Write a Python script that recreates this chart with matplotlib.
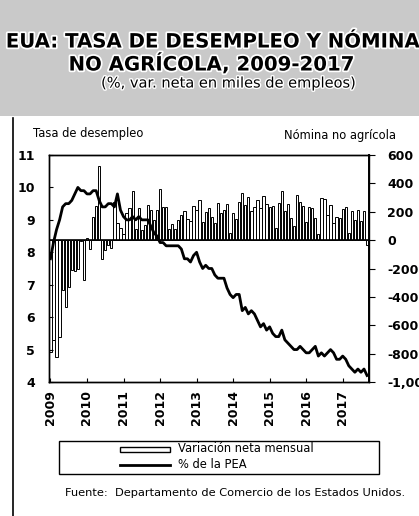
import numpy as np
import matplotlib
matplotlib.use("Agg")
import matplotlib.pyplot as plt
from matplotlib.patches import Rectangle
from matplotlib.lines import Line2D
import matplotlib.patheffects as pe
from matplotlib.ticker import FuncFormatter

plt.rcParams['axes.unicode_minus'] = False
plt.rcParams['font.family'] = ['DejaVu Sans']

# ---------------- data ----------------
start_year = 2009
# Nonfarm payroll monthly change (thousands), Jan 2009 - Sep 2017
nomina = [
    -791, -703, -823, -686, -351, -470, -329, -212, -219, -200, -7, -279,   # 2009
    14, -64, 163, 243, 522, -133, -70, -34, -54, 270, 121, 88,              # 2010
    42, 188, 225, 346, 77, 225, 69, 110, 248, 209, 141, 209,                # 2011
    358, 237, 233, 78, 115, 76, 143, 177, 203, 146, 132, 244,               # 2012
    211, 286, 130, 197, 226, 162, 122, 261, 190, 212, 258, 47,              # 2013
    190, 151, 272, 329, 246, 304, 202, 230, 280, 227, 312, 255,             # 2014
    234, 238, 86, 262, 344, 206, 254, 157, 100, 321, 272, 239,              # 2015
    126, 237, 225, 153, 43, 297, 291, 176, 249, 124, 164, 155,              # 2016
    216, 232, 50, 207, 145, 210, 138, 208, -33,                             # 2017
]
# Unemployment rate (% of labour force)
desempleo = [
    7.8, 8.3, 8.7, 9.0, 9.4, 9.5, 9.5, 9.6, 9.8, 10.0, 9.9, 9.9,
    9.8, 9.8, 9.9, 9.9, 9.6, 9.4, 9.4, 9.5, 9.5, 9.4, 9.8, 9.3,
    9.1, 9.0, 9.0, 9.1, 9.0, 9.1, 9.0, 9.0, 9.0, 8.8, 8.6, 8.5,
    8.3, 8.3, 8.2, 8.2, 8.2, 8.2, 8.2, 8.1, 7.8, 7.8, 7.7, 7.9,
    8.0, 7.7, 7.5, 7.6, 7.5, 7.5, 7.3, 7.2, 7.2, 7.2, 6.9, 6.7,
    6.6, 6.7, 6.7, 6.2, 6.3, 6.1, 6.2, 6.1, 5.9, 5.7, 5.8, 5.6,
    5.7, 5.5, 5.4, 5.4, 5.6, 5.3, 5.2, 5.1, 5.0, 5.0, 5.1, 5.0,
    4.9, 4.9, 5.0, 5.1, 4.8, 4.9, 4.8, 4.9, 5.0, 4.9, 4.7, 4.7,
    4.8, 4.7, 4.5, 4.4, 4.3, 4.4, 4.3, 4.4, 4.2,
]
years = list(range(2009, 2018))
left_ticks = [4, 5, 6, 7, 8, 9, 10, 11]
right_ticks = [-1000, -800, -600, -400, -200, 0, 200, 400, 600]

title_l1 = "EUA: TASA DE DESEMPLEO Y NÓMINA"
title_l2 = "NO AGRÍCOLA, 2009-2017"
subtitle = "(%, var. neta en miles de empleos)"
lbl_left = "Tasa de desempleo"
lbl_right = "Nómina no agrícola"
leg_bar = "Variación neta mensual"
leg_line = "% de la PEA"
fuente = "Fuente:  Departamento de Comercio de los Estados Unidos."

# ---------------- figure ----------------
W, H = 419, 516
fig = plt.figure(figsize=(W / 100, H / 100), dpi=100)

def fx(px):
    return px / W

def fy(py):
    return 1 - py / H

# grey halftone header
fig.add_artist(Rectangle((0, fy(116)), 1, 116 / H, transform=fig.transFigure,
                         facecolor='#c9c9c9', edgecolor='none', zorder=0))
stroke = [pe.withStroke(linewidth=2.5, foreground='white')]
fig.text(fx(213), fy(42), title_l1, ha='center', va='center', fontsize=14.2,
         fontweight='bold', color='black', path_effects=stroke)
fig.text(fx(212), fy(64), title_l2, ha='center', va='center', fontsize=14.2,
         fontweight='bold', color='black', path_effects=stroke)
fig.text(fx(229), fy(83), subtitle, ha='center', va='center', fontsize=10.5,
         color='black', path_effects=[pe.withStroke(linewidth=2, foreground='white')])

# frame line on left
fig.add_artist(Line2D([fx(13), fx(13)], [fy(118), fy(516)], transform=fig.transFigure,
                      color='black', lw=1.2))

# axes
ax = fig.add_axes([fx(49), fy(382), fx(369) - fx(49), (382 - 155) / H])
ax2 = ax.twinx()

x = np.array([start_year + i / 12 for i in range(len(nomina))])
ax2.bar(x, nomina, width=0.062, color='white', edgecolor='black', linewidth=0.7, zorder=2)
ax2.axhline(0, color='black', lw=1.2, zorder=3)
ax2.set_ylim(-1000, 600)
ax2.set_yticks(right_ticks)
ax2.yaxis.set_major_formatter(FuncFormatter(lambda v, p: f"{int(v):,}"))

xd = np.array([start_year + i / 12 for i in range(len(desempleo))])
ax.set_zorder(ax2.get_zorder() + 1)
ax.patch.set_visible(False)
ax.plot(xd, desempleo, color='black', lw=2.0, zorder=4)
ax.set_ylim(4, 11)
ax.set_yticks(left_ticks)
ax.set_xlim(2008.96, 2017.72)
ax.set_xticks(years)
ax.set_xticklabels([str(y) for y in years], rotation=90)

tick_font = dict(fontsize=9, fontweight='bold')
for lab in ax.get_yticklabels() + ax.get_xticklabels() + ax2.get_yticklabels():
    lab.set_fontsize(9)
    lab.set_fontweight('bold')

ax.tick_params(axis='y', direction='in', length=3, pad=10)
ax.tick_params(axis='x', direction='in', length=3, pad=6)
ax2.tick_params(axis='y', direction='out', length=4, pad=9)
for a in (ax, ax2):
    for s in a.spines.values():
        s.set_linewidth(1.0)
ax2.spines['right'].set_linewidth(1.4)

fig.text(fx(33), fy(133), lbl_left, ha='left', va='center', fontsize=8.3)
fig.text(fx(396), fy(136), lbl_right, ha='right', va='center', fontsize=8.3)

# legend box
fig.add_artist(Rectangle((fx(59), fy(474)), fx(379) - fx(59), (474 - 441) / H,
                         transform=fig.transFigure, facecolor='white',
                         edgecolor='black', lw=1.0))
fig.add_artist(Rectangle((fx(120), fy(452)), fx(170) - fx(120), 5 / H,
                         transform=fig.transFigure, facecolor='white',
                         edgecolor='black', lw=1.0))
fig.text(fx(178), fy(449), leg_bar, ha='left', va='center', fontsize=8.3)
fig.add_artist(Line2D([fx(120), fx(170)], [fy(465), fy(465)], transform=fig.transFigure,
                      color='black', lw=2.0))
fig.text(fx(178), fy(465), leg_line, ha='left', va='center', fontsize=8.3)

fig.text(fx(65), fy(493), fuente, ha='left', va='center', fontsize=8.2)

fig.savefig("out.png", dpi=100)
